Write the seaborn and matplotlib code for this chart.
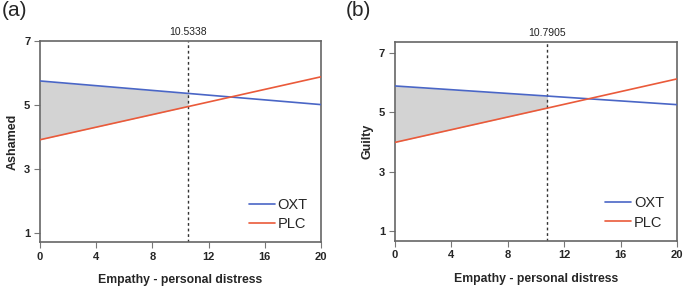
import numpy as np
import pandas as pd
import seaborn as sns
import matplotlib.pyplot as plt

# values (line endpoints at x = 0 and x = 20)
X_END = [0, 20]
GROUPS = ["OXT", "PLC"]
A_OXT = [5.75, 5.01]
A_PLC = [3.91, 5.88]
B_OXT = [5.88, 5.25]
B_PLC = [3.98, 6.12]
A_CUT = 10.5338
B_CUT = 10.7905
PANEL_LABELS = ["(a)", "(b)"]
Y_LABELS = ["Ashamed", "Guilty"]
X_TICKS = [0, 4, 8, 12, 16, 20]
Y_TICKS = [1, 3, 5, 7]

PALETTE = {"OXT": "#4a66c6", "PLC": "#ea5a3a"}

sns.set_style("white")
plt.rcParams["font.family"] = ["Liberation Sans", "DejaVu Sans"]


def make_df(oxt, plc):
    return pd.DataFrame({
        "x": X_END * 2,
        "y": oxt + plc,
        "group": ["OXT"] * 2 + ["PLC"] * 2,
    })


def panel(ax, oxt, plc, cut, ylabel, ylim):
    df = make_df(oxt, plc)
    # shaded region of significance (left of the cutoff)
    xs = np.array([0, cut])
    top = np.interp(xs, X_END, oxt)
    bot = np.interp(xs, X_END, plc)
    ax.fill_between(xs, bot, top, color="#d3d3d3", lw=0, zorder=1)
    sns.lineplot(data=df, x="x", y="y", hue="group", hue_order=GROUPS,
                 palette=PALETTE, lw=1.2, ax=ax, zorder=3)
    ax.axvline(cut, color="#333333", ls=(0, (2, 2)), lw=1.0, zorder=2)
    ax.annotate(f"{cut:.4f}", xy=(cut, 1.0), xycoords=("data", "axes fraction"),
                xytext=(0, 3), textcoords="offset points",
                ha="center", va="bottom", fontsize=7.5, color="#222222")
    ax.set_xlim(0, 20)
    ax.set_ylim(*ylim)
    ax.set_xticks(X_TICKS)
    ax.set_yticks(Y_TICKS)
    ax.set_xlabel("Empathy - personal distress", fontsize=8.8, fontweight="bold", labelpad=9)
    ax.set_ylabel(ylabel, fontsize=9, fontweight="bold", labelpad=4)
    ax.tick_params(axis="both", length=4, width=0.8, color="#777777",
                   labelsize=8, pad=3, direction="out", bottom=True, left=True)
    for lab in ax.get_xticklabels() + ax.get_yticklabels():
        lab.set_fontweight("bold")
    for sp in ax.spines.values():
        sp.set_color("#666666")
        sp.set_linewidth(1.2)
    leg = ax.legend(loc="lower right", frameon=False, fontsize=10.5,
                    handlelength=1.8, handletextpad=0.2, labelspacing=0.35,
                    bbox_to_anchor=(1.0, -0.01))
    for h in leg.get_lines():
        h.set_linewidth(1.2)


fig = plt.figure(figsize=(6.85, 2.89), dpi=100)
ax1 = fig.add_axes([0.0584, 0.1626, 0.4102, 0.6955])
ax2 = fig.add_axes([0.5766, 0.1671, 0.4122, 0.6886])

panel(ax1, A_OXT, A_PLC, A_CUT, Y_LABELS[0], (0.71, 7.0))
panel(ax2, B_OXT, B_PLC, B_CUT, Y_LABELS[1], (0.67, 7.37))

fig.text(0.002, 0.998, PANEL_LABELS[0], ha="left", va="top", fontsize=15)
fig.text(0.505, 0.998, PANEL_LABELS[1], ha="left", va="top", fontsize=15)

fig.savefig("out.png", dpi=100)
